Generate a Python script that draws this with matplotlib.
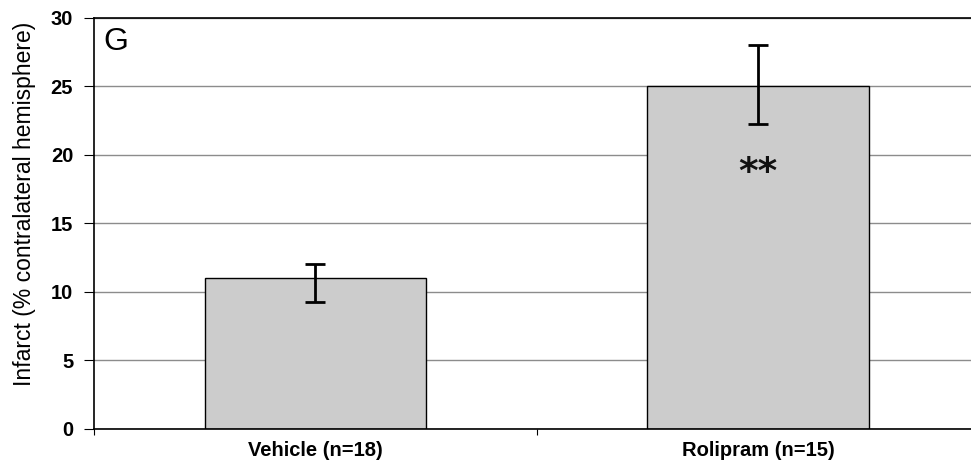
"""Bar chart of infarct size, vehicle vs rolipram, with error bars."""

import matplotlib.pyplot as plt
import numpy as np

plt.rcParams['font.family'] = ['Liberation Sans', 'DejaVu Sans']

# Data
groups = ['Vehicle (n=18)', 'Rolipram (n=15)']
infarct = [11.0, 25.0]
err_low = [1.7, 2.75]
err_high = [1.05, 3.0]
y_ticks = [0, 5, 10, 15, 20, 25, 30]

fig = plt.figure(figsize=(9.71, 4.66), dpi=100)
ax = fig.add_axes([0.0968, 0.0794, 0.912, 0.882])

x = np.arange(len(groups))

# Gridlines behind the bars
ax.set_axisbelow(True)
ax.yaxis.grid(True, color='#8c8c8c', linewidth=1.0)

ax.bar(x, infarct, width=0.5, color='#cccccc', edgecolor='black',
       linewidth=1.0, zorder=2)
ax.errorbar(x, infarct, yerr=[err_low, err_high], fmt='none',
            ecolor='black', elinewidth=2.0, capsize=7.5, capthick=2.0,
            zorder=3)

# Significance mark on the rolipram bar
ax.text(1, 18.7, '**', ha='center', va='center', fontsize=27,
        fontweight='bold', family=['DejaVu Sans'], color='#111111', zorder=4)

# Panel letter
ax.text(0.011, 0.978, 'G', transform=ax.transAxes, ha='left', va='top',
        fontsize=23)

ax.set_xlim(-0.5, 1.5)
ax.set_ylim(0, 30)
ax.set_yticks(y_ticks)
ax.set_yticklabels([str(t) for t in y_ticks], fontweight='bold', fontsize=14.5)
ax.set_xticks(x)
ax.set_xticklabels(groups, fontweight='bold', fontsize=14.5)
ax.tick_params(axis='x', which='major', length=0, pad=9)
ax.set_xticks([-0.5, 0.5, 1.5], minor=True)
ax.tick_params(axis='x', which='minor', length=4, width=0.8)
ax.tick_params(axis='y', length=7, width=0.8, pad=8)

ax.set_ylabel('Infarct (% contralateral hemisphere)', fontsize=16.5)
ax.yaxis.set_label_coords(-0.066, 0.547)

for side in ['left', 'bottom', 'top']:
    ax.spines[side].set_color('black')
    ax.spines[side].set_linewidth(1.2)
ax.spines['right'].set_visible(False)

fig.savefig('out.png', dpi=100)
